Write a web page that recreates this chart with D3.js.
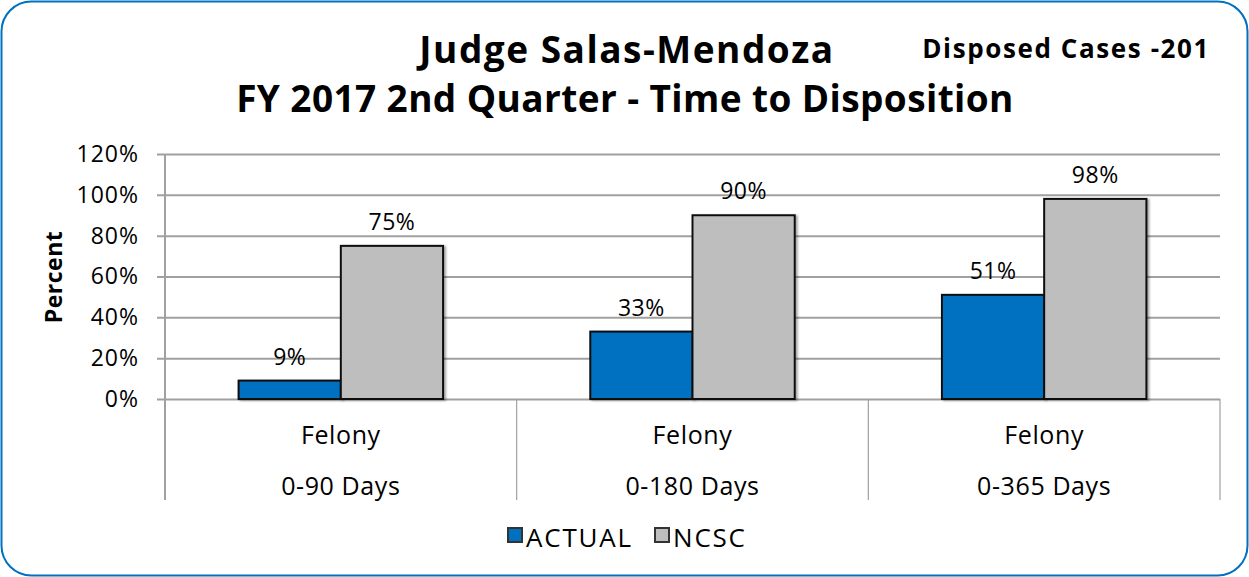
<!DOCTYPE html>
<html>
<head>
<meta charset="utf-8">
<script src="https://d3js.org/d3.v7.min.js"></script>
<style>
body { margin: 0; background: #fff; }
text { font-family: "Open Sans", sans-serif; fill: #000; }
</style>
</head>
<body>
<script>
const categories = ["0-90 Days", "0-180 Days", "0-365 Days"];
const caseType = ["Felony", "Felony", "Felony"];
const seriesNames = ["ACTUAL", "NCSC"];
const actual = [9, 33, 51];
const ncsc = [75, 90, 98];
const yTicks = [0, 20, 40, 60, 80, 100, 120];
const colours = ["#0070C0", "#BEBEBE"];

const width = 1249, height = 577;
const plotLeft = 165, plotRight = 1220, plotTop = 154, plotBottom = 399;

const svg = d3.select("body").append("svg")
  .attr("width", width)
  .attr("height", height);

// soft shadow like the excel bars
var defs = svg.append("defs");
var f = defs.append("filter").attr("id", "shadow")
  .attr("x", "-10%").attr("y", "-10%").attr("width", "130%").attr("height", "130%");
f.append("feDropShadow")
  .attr("dx", 2).attr("dy", 1).attr("stdDeviation", 1.2)
  .attr("flood-color", "#000").attr("flood-opacity", 0.35);

// rounded blue border
svg.append("rect")
  .attr("x", 1.5).attr("y", 1.5)
  .attr("width", width - 3).attr("height", height - 3)
  .attr("rx", 30).attr("ry", 30)
  .attr("fill", "#fff")
  .attr("stroke", "#0070C0")
  .attr("stroke-width", 2);

// titles
svg.append("text")
  .attr("x", 627).attr("y", 63)
  .attr("text-anchor", "middle")
  .style("font-size", "37px").style("font-weight", "bold")
  .style("letter-spacing", "1.5px")
  .text("Judge Salas-Mendoza");
svg.append("text")
  .attr("x", 625).attr("y", 112)
  .attr("text-anchor", "middle")
  .style("font-size", "37px").style("font-weight", "bold")
  .style("letter-spacing", "0.4px")
  .text("FY 2017 2nd Quarter - Time to Disposition");
svg.append("text")
  .attr("x", 1210).attr("y", 58)
  .attr("text-anchor", "end")
  .style("font-size", "26px").style("font-weight", "bold")
  .style("letter-spacing", "1.6px")
  .text("Disposed Cases -201");

var x = d3.scaleBand()
  .domain(categories)
  .range([plotLeft, plotRight]);

var x1 = d3.scaleBand()
  .domain(seriesNames)
  .range([0, x.bandwidth()])
  .paddingOuter(0.72)
  .paddingInner(0);

var y = d3.scaleLinear()
  .domain([0, 120])
  .range([plotBottom, plotTop]);

// gridlines + y axis
var yAxis = d3.axisLeft(y)
  .tickValues(yTicks)
  .tickSize(-(plotRight - plotLeft))
  .tickPadding(25)
  .tickFormat(d => d + "%");

var gy = svg.append("g")
  .attr("transform", "translate(" + plotLeft + ",0)")
  .call(yAxis);
gy.select(".domain").remove();
gy.selectAll(".tick line")
  .attr("x1", -8)
  .attr("stroke", "#A0A0A0")
  .attr("stroke-width", 2);
gy.selectAll(".tick text")
  .style("font-size", "23px")
  .style("letter-spacing", "1px")
  .attr("x", -26)
  .attr("fill", "#000");

// vertical axis line and category separators
var seps = [plotLeft].concat(categories.map(c => x(c) + x.bandwidth()));
svg.selectAll(".sep")
  .data(seps)
  .enter()
  .append("line")
  .attr("x1", d => d).attr("x2", d => d)
  .attr("y1", (d, i) => i == 0 ? plotTop : plotBottom)
  .attr("y2", 500)
  .attr("stroke", "#A0A0A0")
  .attr("stroke-width", (d, i) => i == 0 ? 2 : 1.2);

// bars
var groups = svg.selectAll(".grp")
  .data(categories)
  .enter()
  .append("g")
  .attr("transform", d => "translate(" + x(d) + ",0)");

var vals = [actual, ncsc];
groups.each(function (c, ci) {
  var g = d3.select(this);
  seriesNames.forEach(function (s, si) {
    var v = vals[si][ci];
    g.append("rect")
      .attr("x", x1(s))
      .attr("y", y(v))
      .attr("width", x1.bandwidth())
      .attr("height", y(0) - y(v))
      .attr("fill", colours[si])
      .attr("stroke", "#111")
      .attr("stroke-width", 2)
      .attr("filter", "url(#shadow)");
    g.append("text")
      .attr("x", x1(s) + x1.bandwidth() / 2)
      .attr("y", y(v) - 16)
      .attr("text-anchor", "middle")
      .style("font-size", "23px")
      .style("letter-spacing", "0.5px")
      .text(v + "%");
  });
  g.append("text")
    .attr("x", x.bandwidth() / 2)
    .attr("y", 444)
    .attr("text-anchor", "middle")
    .style("font-size", "25px")
    .style("letter-spacing", "0.6px")
    .text(caseType[ci]);
  g.append("text")
    .attr("x", x.bandwidth() / 2)
    .attr("y", 495)
    .attr("text-anchor", "middle")
    .style("font-size", "25px")
    .style("letter-spacing", "0.6px")
    .text(c);
});

// y axis title
svg.append("text")
  .attr("transform", "translate(62,277) rotate(-90)")
  .attr("text-anchor", "middle")
  .style("font-size", "23px").style("font-weight", "bold")
  .style("letter-spacing", "0.5px")
  .text("Percent");

// legend
var legX = [508, 655];
seriesNames.forEach(function (s, i) {
  svg.append("rect")
    .attr("x", legX[i]).attr("y", 528)
    .attr("width", 14).attr("height", 14)
    .attr("fill", colours[i])
    .attr("stroke", "#333")
    .attr("stroke-width", 2);
  svg.append("text")
    .attr("x", legX[i] + 18).attr("y", 547)
    .style("font-size", "26px")
    .style("letter-spacing", "1.8px")
    .text(s);
});
</script>
</body>
</html>
